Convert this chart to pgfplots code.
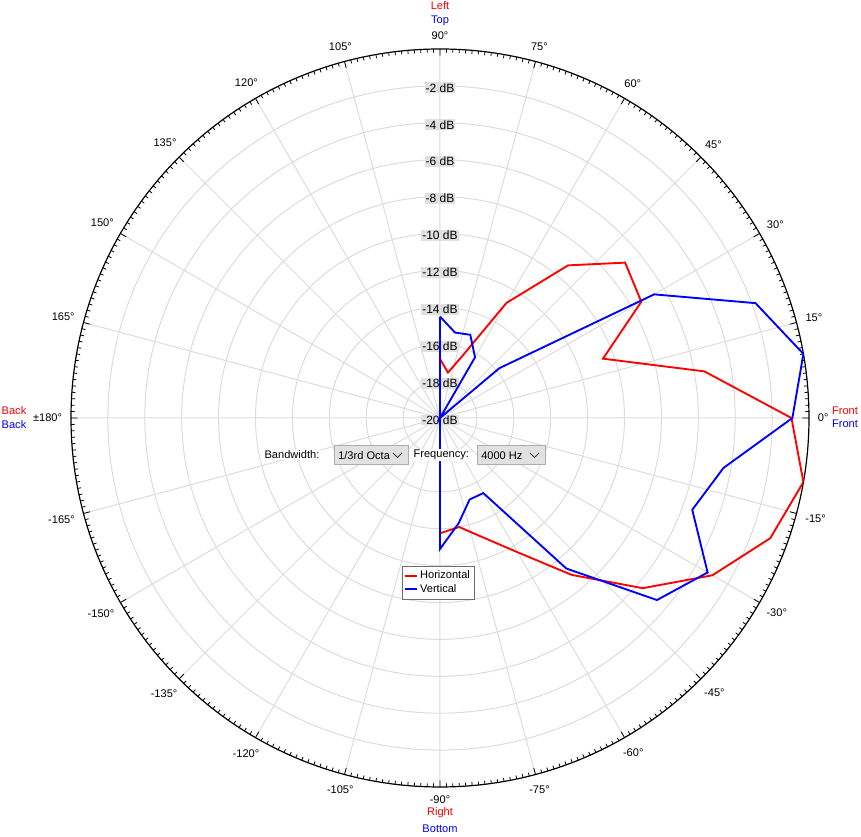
\documentclass[border=0pt]{standalone}
\usepackage{fontspec}
\setmainfont{Liberation Sans}
\usepackage{pgfplots}
\pgfplotsset{compat=1.18}
\usepgfplotslibrary{polar}
\usepackage{pgfplotstable}
\definecolor{gridc}{RGB}{220,220,220}
\definecolor{ctrlfill}{RGB}{225,225,225}
\definecolor{ctrlborder}{RGB}{173,173,173}
\definecolor{lblfill}{RGB}{224,224,224}
\definecolor{legborder}{RGB}{110,110,110}
\definecolor{myred}{RGB}{255,0,0}
\definecolor{myblue}{RGB}{0,0,255}

% angle (deg), level (dB)
\pgfplotstableread{
angle db
90 -16.8
80 -17.5
70 -16.4
60 -12.8
50 -9.2
40 -6.9
30 -7.4
20 -10.6
10 -5.45
0 -0.95
-10 0.0
-20 -0.95
-30 -2.95
-40 -5.65
-50 -8.9
-60 -11.6
-70 -13.1
-80 -14.0
-90 -13.75
90 -16.8
}\horiz

\pgfplotstableread{
angle db
90 -14.5
80 -15.3
70 -15.2
60 -16.2
50 -20.0
40 -15.8
30 -6.6
20 -1.8
10 0.0
0 -0.9
-10 -4.4
-20 -5.45
-30 -3.25
-40 -4.65
-50 -9.35
-60 -15.3
-70 -15.3
-80 -14.2
-90 -12.9
90 -14.5
}\vert

\begin{document}
\begin{tikzpicture}[x=0.75pt,y=0.75pt,font=\fontsize{8.3pt}{10pt}\selectfont]
\begin{polaraxis}[
  scale only axis, width=553.5pt, height=553.5pt,
  xmin=0, xmax=360, ymin=0, ymax=20,
  xtick={0,15,...,345},
  xticklabels={0°,15°,30°,45°,60°,75°,90°,105°,120°,135°,150°,165°,±180°,-165°,-150°,-135°,-120°,-105°,-90°,-75°,-60°,-45°,-30°,-15°},
  minor x tick num=14,
  ytick={2,4,...,18},
  yticklabels={},
  ytick style={draw=none},
  grid=major,
  major grid style={gridc, line width=0.75pt},
  axis line style={black, line width=0.9pt},
  y axis line style={draw=none},
  xtick style={black, line width=0.6pt},
  major tick length=5pt,
  minor tick length=2.6pt,
  tick align=outside,
  xticklabel style={font=\fontsize{8.3pt}{10pt}\selectfont, inner sep=0pt, shift={(\tick:11.5pt)}},
  legend style={at={(axis description cs:0.4485,0.2995)}, anchor=north west,
    draw=legborder, fill=white, font=\fontsize{8.3pt}{10pt}\selectfont,
    inner sep=1.5pt, row sep=-1.5pt, cells={anchor=west}},
  legend image code/.code={\draw[#1] (0pt,0pt) -- (8.5pt,0pt);},
]
\coordinate (C) at (axis cs:0,0);
\node[fill=lblfill, inner sep=0.8pt, yshift=-1.5pt, font=\fontsize{9pt}{10pt}\selectfont] at (axis cs:90,18) {-2 dB};
\node[fill=lblfill, inner sep=0.8pt, yshift=-1.5pt, font=\fontsize{9pt}{10pt}\selectfont] at (axis cs:90,16) {-4 dB};
\node[fill=lblfill, inner sep=0.8pt, yshift=-1.5pt, font=\fontsize{9pt}{10pt}\selectfont] at (axis cs:90,14) {-6 dB};
\node[fill=lblfill, inner sep=0.8pt, yshift=-1.5pt, font=\fontsize{9pt}{10pt}\selectfont] at (axis cs:90,12) {-8 dB};
\node[fill=lblfill, inner sep=0.8pt, yshift=-1.5pt, font=\fontsize{9pt}{10pt}\selectfont] at (axis cs:90,10) {-10 dB};
\node[fill=lblfill, inner sep=0.8pt, yshift=-1.5pt, font=\fontsize{9pt}{10pt}\selectfont] at (axis cs:90,8) {-12 dB};
\node[fill=lblfill, inner sep=0.8pt, yshift=-1.5pt, font=\fontsize{9pt}{10pt}\selectfont] at (axis cs:90,6) {-14 dB};
\node[fill=lblfill, inner sep=0.8pt, yshift=-1.5pt, font=\fontsize{9pt}{10pt}\selectfont] at (axis cs:90,4) {-16 dB};
\node[fill=lblfill, inner sep=0.8pt, yshift=-1.5pt, font=\fontsize{9pt}{10pt}\selectfont] at (axis cs:90,2) {-18 dB};
\node[fill=lblfill, inner sep=0.8pt, yshift=-1.5pt, font=\fontsize{9pt}{10pt}\selectfont] at (axis cs:90,0) {-20 dB};
\addplot[myred, line width=1.4pt] table[x=angle, y expr=\thisrow{db}+20] {\horiz};
\addlegendentry{Horizontal}
\addplot[myblue, line width=1.4pt] table[x=angle, y expr=\thisrow{db}+20] {\vert};
\addlegendentry{Vertical}
\end{polaraxis}

\begin{scope}[shift={(C)}]
\begin{scope}[shift={(-440,418)}]
\pgfresetboundingbox
\path[use as bounding box] (0,0) rectangle (861,-837);
% outer labels
\node[myred] at (440,-6) {Left};
\node[myblue] at (440,-21) {Top};
\node[myred] at (14,-411) {Back};
\node[myblue] at (14,-425) {Back};
\node[myred] at (845,-411) {Front};
\node[myblue] at (845,-424) {Front};
\node[myred] at (440,-813) {Right};
\node[myblue] at (440,-829) {Bottom};

% controls
\node[anchor=west, fill=white, inner sep=1pt] at (263,-455) {Bandwidth:};
\draw[ctrlborder, fill=ctrlfill, line width=0.75pt] (334,-446) rectangle (408,-465);
\node[anchor=west, inner sep=0pt] at (338,-455.5) {1/3rd Octa};
\draw[black!75, line width=0.6pt] (393,-453) -- (397.5,-457.5) -- (402,-453);
\node[anchor=west, fill=white, inner sep=1pt] at (412,-455) {Frequency:};
\draw[ctrlborder, fill=ctrlfill, line width=0.75pt] (477,-446) rectangle (545,-465);
\node[anchor=west, inner sep=0pt] at (481,-455.5) {4000 Hz};
\draw[black!75, line width=0.6pt] (530,-453) -- (534.5,-457.5) -- (539,-453);
\end{scope}
\end{scope}
\end{tikzpicture}
\end{document}
